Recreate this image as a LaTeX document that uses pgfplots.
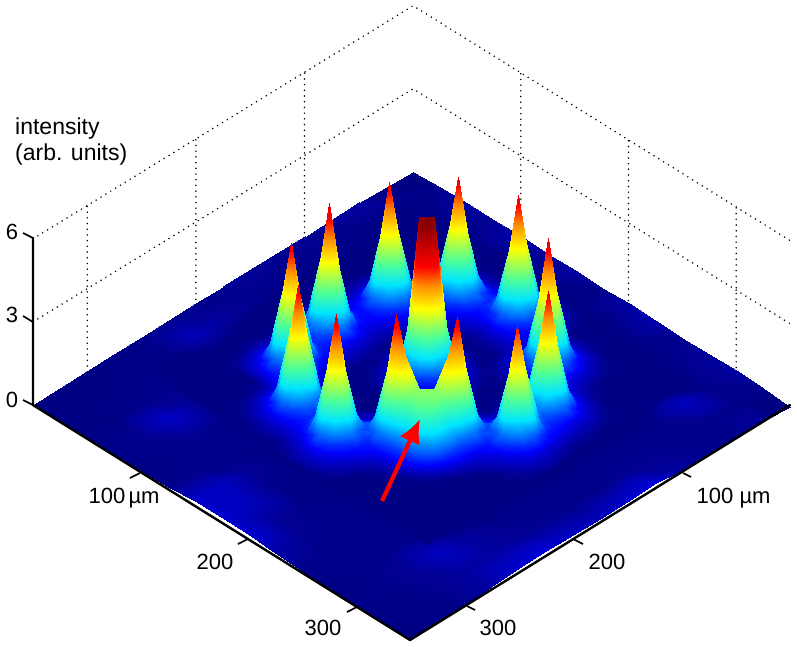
\documentclass[border=0pt]{standalone}
\usepackage{fontspec}
\setmainfont{Liberation Sans}
\usepackage{pgfplots}
\pgfplotsset{compat=1.18}
\usetikzlibrary{arrows.meta}
\pgfplotsset{colormap={beam}{rgb(0pt)=(0,0,.5); rgb(5pt)=(0,0,.52); rgb(12pt)=(0,0,.68); rgb(30pt)=(0,0,1); rgb(60pt)=(0,.35,1); rgb(115pt)=(0,.9,1); rgb(180pt)=(.3,1,.6); rgb(280pt)=(1,1,0); rgb(360pt)=(1,.55,0); rgb(425pt)=(1,0,0); rgb(581pt)=(.5,0,0)}}
\begin{document}
\begin{tikzpicture}[x=1pt,y=-1pt]
\path[use as bounding box] (0,0) rectangle (797,646);
\begin{axis}[hide axis,disabledatascaling,anchor=origin,at={(33pt,-405pt)},clip=false,
 x={(1.077pt,-.671pt)},y={(1.086pt,.666pt)},z={(0pt,.277pt)},
 xmin=0,xmax=350,ymin=0,ymax=350,zmin=0,zmax=600,
 point meta min=0,point meta max=581]
% dotted back walls
\addplot3[black,line width=1.7pt,line cap=round,dash pattern=on 0pt off 5.7pt] coordinates {(0,0,600)(0,350,600)(350,350,600)};
\addplot3[black,line width=1.7pt,line cap=round,dash pattern=on 0pt off 5.7pt] coordinates {(0,0,300)(0,350,300)(350,350,300)};
\addplot3[black,line width=1.7pt,line cap=round,dash pattern=on 0pt off 5.7pt] coordinates {(0,50,0)(0,50,600)};
\addplot3[black,line width=1.7pt,line cap=round,dash pattern=on 0pt off 5.7pt] coordinates {(0,150,0)(0,150,600)};
\addplot3[black,line width=1.7pt,line cap=round,dash pattern=on 0pt off 5.7pt] coordinates {(0,250,0)(0,250,600)};
\addplot3[black,line width=1.7pt,line cap=round,dash pattern=on 0pt off 5.7pt] coordinates {(100,350,0)(100,350,600)};
\addplot3[black,line width=1.7pt,line cap=round,dash pattern=on 0pt off 5.7pt] coordinates {(200,350,0)(200,350,600)};
\addplot3[black,line width=1.7pt,line cap=round,dash pattern=on 0pt off 5.7pt] coordinates {(300,350,0)(300,350,600)};
% coarse floor, 15 x 15 samples, intensity x 100
\addplot3[surf,shader=interp,mesh/rows=15,mesh/cols=15,z buffer=reverse y seq] table[row sep=\\,header=false,x expr={25*mod(\coordindex,15)},y expr={25*floor(\coordindex/15)},z index=0]{
0\\4\\5\\6\\5\\6\\18\\19\\20\\11\\6\\5\\6\\5\\0\\
3\\5\\5\\7\\6\\6\\16\\15\\8\\7\\6\\6\\6\\5\\6\\
4\\5\\6\\17\\7\\6\\8\\6\\6\\6\\6\\6\\8\\7\\6\\
5\\6\\7\\8\\6\\6\\5\\5\\5\\6\\6\\6\\16\\9\\10\\
6\\6\\0\\0\\0\\0\\0\\0\\0\\0\\0\\0\\9\\10\\19\\
7\\14\\0\\0\\0\\0\\0\\0\\0\\0\\0\\0\\6\\8\\22\\
6\\9\\0\\0\\0\\0\\0\\0\\0\\0\\0\\0\\6\\7\\17\\
7\\7\\0\\0\\0\\0\\0\\0\\0\\0\\0\\0\\6\\6\\14\\
8\\6\\0\\0\\0\\0\\0\\0\\0\\0\\0\\0\\6\\6\\18\\
7\\6\\0\\0\\0\\0\\0\\0\\0\\0\\0\\0\\6\\7\\22\\
8\\6\\0\\0\\0\\0\\0\\0\\0\\0\\0\\0\\6\\7\\10\\
7\\6\\0\\0\\0\\0\\0\\0\\0\\0\\0\\0\\6\\6\\7\\
10\\5\\0\\0\\0\\0\\0\\0\\0\\0\\0\\0\\16\\6\\6\\
7\\5\\5\\6\\5\\6\\5\\5\\5\\6\\5\\6\\6\\6\\9\\
0\\6\\10\\8\\12\\8\\10\\6\\10\\12\\7\\9\\10\\6\\0\\
};
% fine central part, 35 x 36 samples every 7 um, intensity x 100
\addplot3[surf,shader=interp,mesh/rows=36,mesh/cols=35,z buffer=reverse y seq] table[row sep=\\,header=false,x expr={49+7*mod(\coordindex,35)},y expr={77+7*floor(\coordindex/35)},z index=0]{
5\\5\\5\\5\\5\\5\\5\\5\\5\\5\\5\\5\\5\\5\\5\\5\\7\\8\\7\\5\\5\\5\\5\\5\\5\\5\\5\\5\\5\\5\\5\\5\\5\\5\\5\\
5\\5\\5\\5\\5\\5\\5\\5\\5\\5\\7\\8\\7\\5\\8\\11\\13\\14\\13\\11\\8\\5\\5\\5\\5\\5\\5\\5\\5\\5\\5\\5\\5\\5\\5\\
5\\5\\5\\5\\5\\5\\5\\5\\8\\11\\13\\14\\13\\14\\15\\19\\23\\26\\23\\19\\12\\8\\5\\5\\5\\5\\5\\5\\5\\5\\5\\5\\5\\5\\5\\
5\\5\\5\\5\\5\\5\\5\\8\\12\\19\\23\\26\\23\\25\\26\\31\\46\\69\\46\\28\\19\\11\\5\\5\\5\\5\\5\\5\\5\\5\\5\\5\\5\\5\\5\\
5\\5\\5\\5\\5\\5\\5\\11\\19\\28\\46\\69\\48\\36\\37\\52\\129\\272\\129\\46\\25\\16\\9\\5\\5\\5\\5\\5\\5\\5\\5\\5\\5\\5\\5\\
5\\5\\5\\5\\5\\5\\7\\13\\23\\46\\129\\272\\132\\55\\44\\77\\274\\467\\275\\75\\34\\23\\16\\11\\8\\5\\5\\5\\5\\5\\5\\5\\5\\5\\5\\
5\\5\\5\\5\\5\\5\\8\\14\\26\\69\\272\\454\\274\\77\\44\\55\\132\\275\\136\\60\\41\\34\\26\\22\\17\\11\\6\\5\\5\\5\\5\\5\\5\\5\\5\\
5\\5\\8\\12\\19\\23\\28\\31\\37\\53\\132\\272\\129\\52\\37\\36\\48\\75\\60\\51\\60\\78\\56\\48\\45\\31\\15\\8\\5\\5\\5\\5\\5\\5\\5\\
5\\5\\11\\19\\28\\46\\69\\52\\42\\42\\52\\69\\46\\31\\26\\25\\25\\34\\41\\60\\136\\285\\163\\114\\110\\84\\43\\15\\5\\5\\5\\5\\5\\5\\5\\
5\\7\\13\\23\\46\\129\\272\\132\\53\\37\\31\\28\\23\\19\\15\\14\\16\\14\\34\\75\\278\\465\\343\\203\\187\\151\\84\\31\\11\\5\\5\\5\\5\\5\\5\\
5\\8\\14\\26\\69\\272\\453\\272\\72\\32\\22\\17\\13\\11\\8\\5\\9\\16\\25\\46\\134\\301\\221\\213\\211\\187\\110\\45\\17\\8\\5\\5\\5\\5\\5\\
5\\7\\13\\23\\48\\132\\274\\129\\46\\23\\15\\10\\7\\5\\5\\5\\5\\11\\19\\28\\49\\95\\128\\179\\213\\203\\114\\48\\22\\11\\5\\5\\5\\5\\5\\
5\\5\\14\\25\\36\\55\\77\\52\\31\\19\\11\\5\\5\\5\\5\\5\\5\\8\\12\\19\\25\\44\\75\\128\\221\\343\\163\\56\\25\\16\\9\\5\\5\\5\\5\\
5\\8\\15\\26\\37\\44\\44\\37\\26\\15\\8\\5\\5\\5\\5\\5\\5\\5\\8\\11\\16\\26\\44\\95\\301\\458\\285\\77\\33\\22\\15\\10\\8\\5\\5\\
5\\11\\19\\31\\52\\77\\55\\36\\25\\14\\5\\5\\5\\8\\11\\15\\20\\15\\11\\8\\9\\16\\26\\49\\134\\278\\136\\59\\39\\32\\23\\18\\11\\8\\5\\
7\\13\\23\\46\\129\\274\\132\\48\\23\\13\\7\\5\\8\\13\\19\\27\\45\\27\\19\\13\\8\\11\\19\\28\\46\\74\\59\\49\\57\\70\\43\\26\\18\\10\\5\\
8\\14\\26\\69\\272\\479\\272\\69\\26\\14\\8\\5\\11\\19\\30\\50\\115\\50\\30\\19\\11\\8\\12\\19\\25\\33\\39\\57\\125\\252\\118\\43\\21\\12\\7\\
7\\13\\23\\46\\129\\272\\129\\46\\23\\13\\7\\8\\15\\27\\50\\250\\565\\250\\50\\27\\15\\8\\8\\11\\16\\22\\32\\72\\255\\425\\249\\64\\24\\13\\8\\
5\\11\\19\\28\\46\\69\\46\\28\\19\\11\\5\\10\\20\\45\\115\\565\\581\\565\\115\\45\\20\\10\\5\\5\\7\\15\\27\\51\\127\\257\\124\\46\\21\\12\\7\\
5\\8\\12\\22\\29\\34\\32\\27\\18\\11\\5\\8\\15\\27\\50\\250\\565\\250\\50\\27\\15\\8\\5\\5\\8\\17\\32\\44\\64\\82\\57\\33\\21\\10\\5\\
5\\5\\11\\18\\27\\32\\34\\29\\22\\12\\8\\5\\11\\19\\30\\50\\115\\50\\30\\19\\11\\5\\5\\5\\11\\22\\34\\59\\85\\65\\44\\32\\17\\8\\5\\
5\\5\\11\\19\\30\\49\\71\\46\\28\\19\\11\\5\\8\\13\\19\\27\\45\\27\\19\\13\\8\\5\\5\\7\\13\\23\\49\\134\\279\\137\\53\\28\\16\\7\\5\\
5\\7\\13\\23\\46\\129\\272\\129\\46\\23\\13\\7\\5\\8\\11\\15\\20\\15\\11\\8\\5\\5\\7\\11\\16\\26\\69\\272\\450\\275\\71\\26\\14\\8\\5\\
5\\8\\14\\26\\69\\272\\454\\272\\69\\28\\17\\10\\5\\5\\5\\8\\10\\8\\5\\5\\8\\11\\13\\16\\21\\29\\49\\129\\272\\129\\46\\23\\13\\7\\5\\
5\\7\\13\\23\\46\\129\\272\\132\\52\\31\\22\\15\\11\\8\\5\\5\\5\\5\\5\\8\\12\\19\\23\\26\\29\\33\\35\\49\\69\\46\\28\\19\\11\\5\\5\\
5\\5\\11\\19\\28\\46\\72\\53\\42\\37\\32\\23\\19\\12\\8\\7\\8\\7\\5\\11\\19\\28\\46\\69\\49\\35\\33\\29\\26\\23\\19\\12\\8\\5\\5\\
5\\5\\8\\12\\19\\23\\32\\37\\42\\53\\72\\46\\28\\22\\17\\13\\14\\13\\13\\16\\23\\46\\129\\272\\129\\49\\29\\21\\16\\13\\11\\8\\5\\5\\5\\
5\\5\\5\\8\\11\\15\\22\\31\\52\\132\\272\\129\\49\\30\\27\\25\\26\\23\\22\\21\\29\\69\\272\\471\\272\\69\\26\\16\\11\\7\\5\\5\\5\\5\\5\\
5\\5\\5\\5\\5\\10\\17\\28\\69\\272\\455\\272\\75\\40\\37\\49\\69\\46\\30\\27\\29\\46\\129\\272\\129\\46\\23\\13\\7\\5\\5\\5\\5\\5\\5\\
5\\5\\5\\5\\5\\7\\13\\23\\46\\129\\272\\131\\54\\41\\54\\131\\272\\129\\46\\29\\27\\30\\46\\69\\46\\28\\19\\11\\5\\5\\5\\5\\5\\5\\5\\
5\\5\\5\\5\\5\\5\\11\\19\\28\\46\\69\\49\\37\\40\\75\\272\\458\\272\\69\\29\\21\\22\\23\\26\\23\\19\\12\\8\\5\\5\\5\\5\\5\\5\\5\\
5\\5\\5\\5\\5\\5\\8\\12\\19\\23\\26\\25\\27\\30\\49\\129\\272\\129\\46\\23\\16\\13\\13\\14\\13\\11\\8\\5\\5\\5\\5\\5\\5\\5\\5\\
5\\5\\5\\5\\5\\5\\5\\8\\11\\13\\14\\13\\17\\22\\28\\46\\69\\46\\28\\19\\11\\5\\7\\8\\7\\5\\5\\5\\5\\5\\5\\5\\5\\5\\5\\
5\\5\\5\\5\\5\\5\\5\\5\\5\\7\\8\\7\\8\\12\\19\\23\\26\\23\\19\\12\\8\\5\\5\\5\\5\\5\\5\\5\\5\\5\\5\\5\\5\\5\\5\\
5\\5\\5\\5\\5\\5\\5\\5\\5\\5\\5\\5\\5\\8\\11\\13\\14\\13\\11\\8\\5\\5\\5\\5\\5\\5\\5\\5\\5\\5\\5\\5\\5\\5\\5\\
5\\5\\5\\5\\5\\5\\5\\5\\5\\5\\5\\5\\5\\5\\5\\7\\8\\7\\5\\5\\5\\5\\5\\5\\5\\5\\5\\5\\5\\5\\5\\5\\5\\5\\5\\
};
\end{axis}
% axes and labels
\draw[black,line width=2.4pt,line cap=round,line join=round] (33,238)--(33,405)--(410,640)--(790,405);
\draw[black,line width=1.7pt] (23,233)--(33,238) (23,316)--(33,322) (23,400)--(33,405);
\draw[black,line width=1.7pt] (140,473)--(130,478) (248,539)--(238,544) (357,607)--(347,612);
\draw[black,line width=1.7pt] (683,473)--(691,477) (573,539)--(583,544) (467,606)--(475,610);
\draw[red,line width=4.2pt,-{Latex[length=24pt,width=22pt]}] (382,501)--(420,419);
\fontsize{22}{26}\selectfont
\begingroup\fontsize{23}{26}\selectfont
\node[anchor=base west,inner sep=0] at (15,134) {intensity};
\node[anchor=base west,inner sep=0] at (15,160) {(arb. units)};
\endgroup
\node[inner sep=0] at (12,232) {6};
\node[inner sep=0] at (12,315) {3};
\node[inner sep=0] at (12,400) {0};
\node[anchor=base,inner sep=0] at (107,503) {100};
\node[anchor=base,inner sep=0] at (144,503) {µm};
\node[anchor=base,inner sep=0] at (215,569) {200};
\node[anchor=base,inner sep=0] at (323,635) {300};
\node[anchor=base,inner sep=0] at (715,503) {100};
\node[anchor=base,inner sep=0] at (755,503) {µm};
\node[anchor=base,inner sep=0] at (607,569) {200};
\node[anchor=base,inner sep=0] at (498,635) {300};
\end{tikzpicture}
\end{document}
